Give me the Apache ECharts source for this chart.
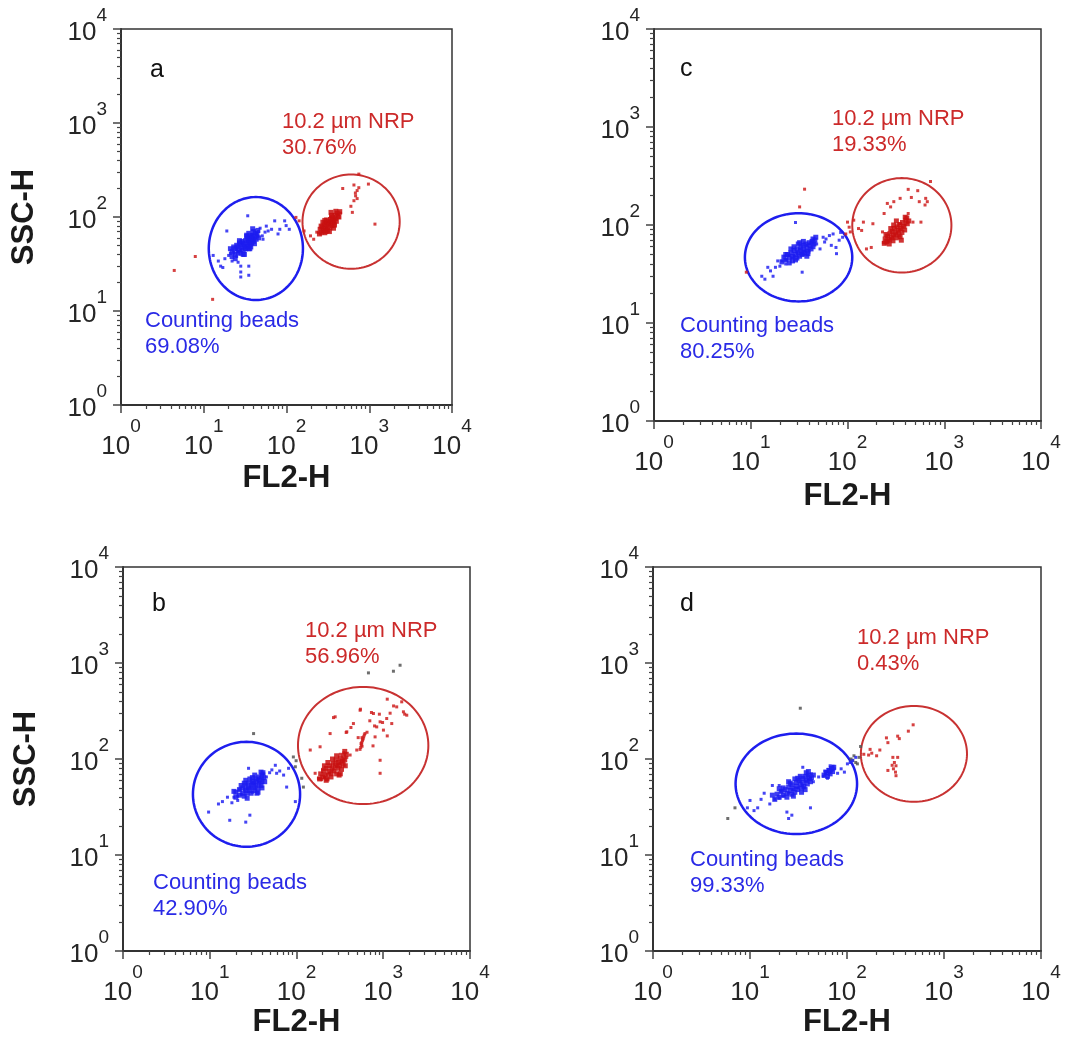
<!DOCTYPE html>
<html>
<head>
<meta charset="utf-8">
<title>FL2-H / SSC-H</title>
<script src="https://cdn.jsdelivr.net/npm/echarts@6/dist/echarts.min.js"></script>
<style>
html,body{margin:0;padding:0;background:#fff;}
#main{width:1084px;height:1053px;}
</style>
</head>
<body>
<div id="main"></div>
<script>
//坐标刻度
var majorTicks = [1, 10, 100, 1000, 10000];
var minorTicks = [2,3,4,5,6,7,8,9,20,30,40,50,60,70,80,90,200,300,400,500,600,700,800,900,2000,3000,4000,5000,6000,7000,8000,9000];

//面板文字
var panelNames = ['a', 'b', 'c', 'd'];
var nrpName = '10.2 \u00b5m NRP';
var beadName = 'Counting beads';
var nrpPct = ['30.76%', '56.96%', '19.33%', '0.43%'];
var beadPct = ['69.08%', '42.90%', '80.25%', '99.33%'];

//门 [xMin, xMax, yMin, yMax]
var beadGateA = [11.5, 158, 13.1, 163];
var nrpGateA = [156, 2333, 28.1, 283];
var beadGateB = [6.4, 110, 12.2, 151];
var nrpGateB = [104, 3311, 33.9, 564];
var beadGateC = [8.7, 112, 16.6, 132];
var nrpGateC = [112, 1186, 32.7, 301];
var beadGateD = [7.1, 127, 16.5, 184];
var nrpGateD = [139, 1726, 35.8, 357];

//面板a 数据 [FL2-H, SSC-H]
var beadCoreA = [[22,38],[22,43],[24,40],[24,46],[26,42],[26,48],[27,45],[28,41],[28,51],[29,47],[30,44],[30,53],[31,49],[32,46],[32,56],[33,52],[34,49],[34,59],[35,54],[36,51],[36,61],[37,57],[38,53],[38,64],[39,59],[40,55],[41,62],[42,67],[43,58],[44,64],[29,55],[35,46],[25,50],[40,70],[31,40],[27,53],[37,48],[33,62],
  [24,36],[21,46],[30,40],[27,56],[36,46],[33,64],[41,52],[45,72],[46,60],[39,75],[23,48],[35,67]];
var beadsA = [[20,39],[21,41],[23,42],[25,45],[26,43],[28,44],[30,50],[32,49],[34,55],[36,57],[38,59],[41,58],[44,67],[45,63],[46,70],[29,53],[33,45],[40,55],[25,38],[38,65],
  [66,74],[95,91],[108,74],[72,91],[60,71],[79,66],[83,74],[99,81],[55,69],[51,63],[52,58],[48,76],[57,80],
  [28,30],[35,30],[28,26],[28,23],[35,24],[16,30],[17,29],[13,39],[19,71],[34,103],[22,34],[26,33],[18,36],[15,34]];
var nrpCoreA = [[250,66],[255,74],[265,69],[270,78],[280,72],[285,82],[290,68],[295,76],[300,86],[310,80],[315,72],[320,90],[325,84],[335,77],[340,94],[345,88],[355,81],[360,99],[365,92],[375,86],[385,104],[390,96],[400,90],[410,110],[420,101],[440,114],[305,93],[330,70],[350,104],[370,76],[395,115],[275,88],
  [262,80],[300,70],[345,112],[380,82],[430,100],[290,92]];
var nrpA = [[245,68],[260,66],[275,70],[305,76],[335,84],[380,96],[420,106],[450,110],[340,100],
  [478,201],[653,219],[714,191],[684,168],[653,149],[748,286],[977,224],[625,112],[1172,84],[195,63],[213,58],[232,69],[163,71],[130,99],[142,91],[714,157],[748,205],[680,180],[600,130],
  [4.4,27],[7.9,38],[12.8,13.3]];
var otherA = [];

//面板b
var beadCoreB = [[20,40],[20,45],[22,42],[22,48],[24,44],[24,50],[25,41],[26,47],[26,53],[27,44],[28,50],[28,56],[29,47],[30,53],[30,44],[31,59],[32,50],[32,56],[33,47],[34,62],[34,53],[35,59],[36,50],[37,65],[37,56],[38,60],[39,53],[40,68],[40,58],[42,64],[25,56],[35,44],[29,62],[41,72],
  [19,46],[23,53],[27,39],[31,64],[36,45],[39,73],[43,58],[33,68],[26,60],[40,50]];
var beadsB = [[19,40],[21,41],[23,43],[25,48],[27,49],[29,51],[31,56],[33,55],[36,62],[38,64],[41,63],[42,70],[31,45],[22,48],
  [57,86],[59,71],[77,51],[45,65],[71,68],[52,77],[81,80],[97,36],[64,75],[49,72],
  [9.7,28],[12.6,34],[17,23],[26,22],[29,26],[16,40],[21,37],[28,80],[14,36],[18,35]];
var nrpCoreB = [[185,62],[190,70],[200,65],[205,75],[215,68],[220,80],[225,62],[235,74],[240,85],[250,70],[255,80],[265,90],[270,75],[280,86],[285,97],[290,70],[300,80],[305,92],[315,85],[320,102],[330,78],[335,95],[345,88],[350,108],[360,98],[375,112],[260,100],[310,68],[230,92],[365,85],
  [210,85],[250,65],[320,70],[360,120],[290,108],[220,60]];
var nrpB = [[180,62],[195,61],[210,64],[225,68],[240,71],[255,75],[270,79],[285,83],[300,87],[315,91],[335,95],[355,99],[380,104],[320,112],[200,78],[350,116],
  [540,126],[550,132],[560,140],[565,148],[575,155],[585,163],[595,170],[605,178],[615,184],[555,145],[580,160],[570,136],
  [920,244],[1096,264],[1429,349],[1633,394],[1866,286],[841,216],[1253,234],[1005,200],[1708,310],[805,170],[541,322],[279,275],[771,298],[453,234],[920,97],[920,71],[495,124],[415,110],[348,97],[144,124],[187,134],[244,184],[380,192],[164,71],[179,63],[1112,420],[1315,357],[902,293],[794,221],[982,240],[731,305],[546,330],[514,167],[569,167],[267,270],[424,213],[374,189],[762,137],[1112,174],[1766,293],[650,190],[700,250],[1200,300]];
var otherB = [[32,184],[92,105],[97,83],[115,63],[120,51],[99,96],[675,789],[1310,821],[1563,948]];

//面板c
var beadCoreC = [[21,42],[22,47],[23,44],[24,50],[25,46],[26,52],[27,48],[27,43],[28,55],[29,50],[30,46],[30,57],[31,52],[32,48],[33,60],[33,54],[34,50],[35,62],[35,56],[36,52],[37,64],[38,58],[39,54],[40,66],[41,61],[42,57],[43,68],[45,64],[28,60],[38,48],[31,64],[44,72],
  [23,50],[26,57],[29,44],[35,68],[39,51],[46,70],[32,66],[44,60],[25,41],[47,75]];
var beadsC = [[21,43],[23,44],[25,49],[28,48],[30,53],[32,57],[34,51],[36,54],[38,62],[40,64],[42,66],[45,65],[35,50],[40,55],[27,46],
  [65,78],[82,70],[76,59],[58,67],[89,75],[71,81],[52,57],[56,75],[77,51],[48,64],[60,72],[85,84],[68,62],
  [15,37],[18,37],[13,30],[14,28],[17,30],[23,40],[19,43],[34,33],[29,106],[20,38],[16,34]];
var nrpCoreC = [[240,65],[245,72],[255,68],[260,77],[270,71],[275,82],[285,74],[290,86],[295,69],[300,79],[305,92],[315,83],[320,74],[325,96],[335,88],[340,79],[345,101],[355,92],[365,84],[370,106],[380,97],[390,89],[400,112],[415,103],[320,110],[280,92],[360,70],[410,118],
  [250,80],[300,100],[350,76],[395,120],[430,110],[270,64]];
var nrpC = [[235,66],[250,65],[265,68],[280,72],[295,75],[310,79],[325,83],[340,87],[355,91],[375,96],[395,100],[415,105],[345,103],
  [721,278],[424,231],[532,224],[457,191],[350,187],[552,173],[643,187],[633,160],[668,173],[258,166],[279,153],[239,131],[424,131],[475,107],[574,107],[183,103],[146,107],[140,88],[176,59],[157,57],[230,85],[301,173],
  [100,107],[104,95],[107,85],[96,81],[116,112],[130,92],[32,153],[36,232],[9,33]];
var otherC = [];

//面板d
var beadCoreD = [[18,38],[19,43],[20,40],[21,46],[22,42],[23,48],[24,44],[24,40],[25,51],[26,47],[27,43],[27,54],[28,49],[29,45],[30,57],[30,52],[31,48],[32,60],[33,54],[34,50],[35,63],[35,57],[36,52],[37,66],[38,60],[39,55],[40,68],[41,62],[42,58],[26,56],[34,45],[29,62],[38,72],[22,50],
  [17,42],[20,49],[25,58],[28,41],[33,66],[37,48],[40,74],[43,64],[31,63],[45,68],
  [58,68],[61,72],[63,66],[65,76],[67,70],[69,80],[71,74],[73,82]];
var beadsD = [[18,38],[20,39],[22,41],[25,44],[28,48],[31,50],[33,58],[35,53],[38,59],[40,61],[42,63],[21,46],[36,50],[43,70],
  [57,66],[60,70],[62,74],[64,78],[66,72],[68,80],[70,76],[72,84],[74,79],[63,63],[67,85],[59,75],
  [87,79],[101,89],[114,96],[123,104],[94,73],[51,65],[45,58],[40,67],[80,71],[108,92],
  [10,37],[12,31],[16,34],[14,44],[17,53],[9.4,31],[11,29],[24,28],[27,26],[25,24],[42,31],[35,82],[20,53],[13,38]];
var nrpCoreD = [];
var nrpD = [[149,112],[173,126],[180,115],[202,108],[218,124],[255,166],[264,148],[333,173],[346,163],[429,195],[481,227],[167,110],[297,104],[308,92],[320,85],[301,79],[316,73],[320,67],[264,76],[333,104],[292,86]];
var otherD = [[33,338],[7,31],[5.9,24],[110,100],[123,92],[133,104],[118,108],[128,89],[138,135],[115,97]];

var panelData = [
    {beadCore: beadCoreA, beads: beadsA, nrpCore: nrpCoreA, nrp: nrpA, other: otherA, beadGate: beadGateA, nrpGate: nrpGateA},
    {beadCore: beadCoreB, beads: beadsB, nrpCore: nrpCoreB, nrp: nrpB, other: otherB, beadGate: beadGateB, nrpGate: nrpGateB},
    {beadCore: beadCoreC, beads: beadsC, nrpCore: nrpCoreC, nrp: nrpC, other: otherC, beadGate: beadGateC, nrpGate: nrpGateC},
    {beadCore: beadCoreD, beads: beadsD, nrpCore: nrpCoreD, nrp: nrpD, other: otherD, beadGate: beadGateD, nrpGate: nrpGateD}
];

//版面
var layout = [
    {left: 121, top: 29, width: 331, height: 376, xGap: 58, yName: true, letter: [150, 58], nrpAt: [282, 109], beadAt: [145, 308]},
    {left: 123, top: 567, width: 347, height: 384, xGap: 52, yName: true, letter: [152, 592], nrpAt: [305, 618], beadAt: [153, 870]},
    {left: 654, top: 29, width: 387, height: 392, xGap: 60, yName: false, letter: [680, 57], nrpAt: [832, 106], beadAt: [680, 313]},
    {left: 653, top: 567, width: 388, height: 384, xGap: 53, yName: false, letter: [680, 592], nrpAt: [857, 625], beadAt: [690, 847]}
];

var FONT = "'Liberation Sans', Arial, sans-serif";
var BLUE = '#2424f2';
var RED = '#cf2020';

function expLabel(v) {
    var e = Math.round(Math.log(v) / Math.LN10);
    return '{b|10}{s|' + e + '}';
}

//椭圆门
function gateRender(color, width) {
    return function (params, api) {
        var p0 = api.coord([api.value(0), api.value(2)]);
        var p1 = api.coord([api.value(1), api.value(3)]);
        var cx = (p0[0] + p1[0]) / 2, cy = (p0[1] + p1[1]) / 2;
        var rx = Math.abs(p1[0] - p0[0]) / 2, ry = Math.abs(p1[1] - p0[1]) / 2;
        var pts = [];
        for (var k = 0; k < 120; k++) {
            var t = k / 120 * Math.PI * 2;
            pts.push([cx + rx * Math.cos(t), cy + ry * Math.sin(t)]);
        }
        return {type: 'polygon', shape: {points: pts}, style: {fill: 'none', stroke: color, lineWidth: width}};
    };
}

function dots(i, data, color, size) {
    return {type: 'scatter', xAxisIndex: 2 * i, yAxisIndex: 2 * i, data: data,
        symbol: 'rect', symbolSize: size, itemStyle: {color: color, opacity: 0.85}};
}

var option = {
    backgroundColor: '#fff',
    animation: false,
    grid: [], xAxis: [], yAxis: [], series: [], graphic: []
};

for (var i = 0; i < 4; i++) {
    var L = layout[i], D = panelData[i];
    option.grid.push({left: L.left, top: L.top, width: L.width, height: L.height,
        show: true, borderColor: '#333', borderWidth: 1.5, backgroundColor: 'transparent'});
    //主坐标轴
    option.xAxis.push({
        type: 'log', logBase: 10, gridIndex: i, min: 1, max: 10000, position: 'bottom',
        name: 'FL2-H', nameLocation: 'middle', nameGap: L.xGap,
        nameTextStyle: {fontSize: 31, fontWeight: 'bold', color: '#1a1a1a', fontFamily: FONT},
        axisLine: {show: true, lineStyle: {color: '#333', width: 2}},
        axisTick: {show: true, length: 8, customValues: majorTicks, lineStyle: {color: '#444', width: 1.5}},
        axisLabel: {show: true, customValues: majorTicks, margin: 12, formatter: expLabel,
            rich: {
                b: {fontSize: 26, color: '#262626', fontFamily: FONT, padding: [17, 0, 0, 0]},
                s: {fontSize: 19, color: '#262626', fontFamily: FONT, verticalAlign: 'top'}
            }},
        splitLine: {show: false}
    });
    option.xAxis.push({
        type: 'log', logBase: 10, gridIndex: i, min: 1, max: 10000, position: 'bottom',
        axisLine: {show: false}, axisLabel: {show: false}, splitLine: {show: false},
        axisTick: {show: true, length: 4, customValues: minorTicks, lineStyle: {color: '#444', width: 1.2}}
    });
    option.yAxis.push({
        type: 'log', logBase: 10, gridIndex: i, min: 1, max: 10000, position: 'left',
        name: L.yName ? 'SSC-H' : '', nameLocation: 'middle', nameGap: 81,
        nameTextStyle: {fontSize: 31, fontWeight: 'bold', color: '#1a1a1a', fontFamily: FONT},
        axisLine: {show: true, lineStyle: {color: '#333', width: 2}},
        axisTick: {show: true, length: 8, customValues: majorTicks, lineStyle: {color: '#444', width: 1.5}},
        axisLabel: {show: true, customValues: majorTicks, margin: 14, formatter: expLabel,
            rich: {
                b: {fontSize: 26, color: '#262626', fontFamily: FONT, padding: [13, 0, 6, 0]},
                s: {fontSize: 19, color: '#262626', fontFamily: FONT, verticalAlign: 'top'}
            }},
        splitLine: {show: false}
    });
    option.yAxis.push({
        type: 'log', logBase: 10, gridIndex: i, min: 1, max: 10000, position: 'left',
        axisLine: {show: false}, axisLabel: {show: false}, splitLine: {show: false},
        axisTick: {show: true, length: 4, customValues: minorTicks, lineStyle: {color: '#444', width: 1.2}}
    });

    //散点
    option.series.push(dots(i, D.other, '#555', 3));
    option.series.push(dots(i, D.beads, BLUE, 3));
    option.series.push(dots(i, D.beadCore, '#1c1cf0', 5));
    option.series.push(dots(i, D.nrp, RED, 3));
    option.series.push(dots(i, D.nrpCore, '#c81010', 5));
    //门
    option.series.push({type: 'custom', xAxisIndex: 2 * i, yAxisIndex: 2 * i, clip: false,
        renderItem: gateRender('#1e1eee', 2.5), data: [D.beadGate], encode: {x: [0, 1], y: [2, 3]}});
    option.series.push({type: 'custom', xAxisIndex: 2 * i, yAxisIndex: 2 * i, clip: false,
        renderItem: gateRender('#c83232', 2), data: [D.nrpGate], encode: {x: [0, 1], y: [2, 3]}});

    //文字
    option.graphic.push({type: 'text', x: L.letter[0], y: L.letter[1],
        style: {text: panelNames[i], fill: '#111', font: '25px ' + FONT, lineHeight: 25, verticalAlign: 'top'}});
    option.graphic.push({type: 'text', x: L.nrpAt[0], y: L.nrpAt[1],
        style: {text: nrpName + '\n' + nrpPct[i], fill: '#cc2a2a', font: '22px ' + FONT, lineHeight: 26, verticalAlign: 'top'}});
    option.graphic.push({type: 'text', x: L.beadAt[0], y: L.beadAt[1],
        style: {text: beadName + '\n' + beadPct[i], fill: '#2a2ae6', font: '22px ' + FONT, lineHeight: 26, verticalAlign: 'top'}});
}

var myChart = echarts.init(document.getElementById('main'));
myChart.setOption(option);
</script>
</body>
</html>
